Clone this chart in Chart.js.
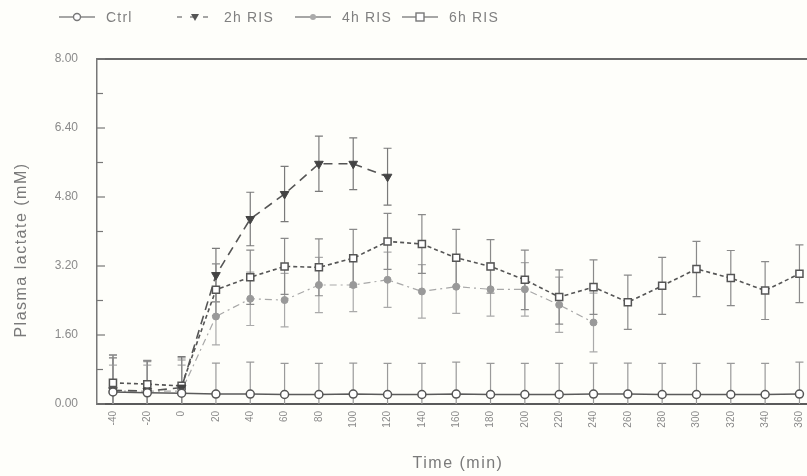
<!DOCTYPE html>
<html>
<head>
<meta charset="utf-8">
<script src="https://cdn.jsdelivr.net/npm/chart.js@4.4.1/dist/chart.umd.min.js"></script>
<style>
  html, body { margin: 0; padding: 0; background: #fefefa; }
  #wrap { position: relative; width: 807px; height: 476px; overflow: hidden; }
  #legend { position: absolute; top: 9px; left: 0; width: 807px; height: 22px;
            font-family: "Liberation Sans", Arial, sans-serif; font-size: 14px; color: #808080; letter-spacing: 1.2px; }
  .item { position: absolute; top: 0; display: flex; align-items: center; }
  .item svg { margin-right: 10px; }
</style>
</head>
<body>
<div id="wrap">
  <canvas id="lactateChart" width="807" height="476"></canvas>
  <div id="legend"></div>
</div>
<script>
// Time points (min) and plasma lactate (mM), mean and SE
const timePoints = [-40, -20, 0, 20, 40, 60, 80, 100, 120, 140, 160, 180, 200, 220, 240, 260, 280, 300, 320, 340, 360];

const ctrlMean = [0.28, 0.26, 0.25, 0.23, 0.23, 0.22, 0.22, 0.23, 0.22, 0.22, 0.23, 0.22, 0.22, 0.22, 0.23, 0.23, 0.22, 0.22, 0.22, 0.22, 0.23];
const ctrlSE   = [0.85, 0.72, 0.82, 0.72, 0.74, 0.72, 0.72, 0.72, 0.72, 0.72, 0.74, 0.72, 0.72, 0.72, 0.72, 0.72, 0.72, 0.72, 0.72, 0.72, 0.74];

const ris2hMean = [0.32, 0.30, 0.38, 2.99, 4.29, 4.87, 5.57, 5.57, 5.27];
const ris2hSE   = [0.75, 0.70, 0.72, 0.62, 0.62, 0.64, 0.64, 0.60, 0.66];

const ris4hMean = [0.30, 0.30, 0.30, 2.03, 2.44, 2.41, 2.76, 2.76, 2.88, 2.61, 2.72, 2.66, 2.66, 2.30, 1.89];
const ris4hSE   = [0.60, 0.60, 0.60, 0.66, 0.62, 0.62, 0.64, 0.62, 0.64, 0.62, 0.62, 0.62, 0.62, 0.64, 0.68];

const ris6hMean = [0.49, 0.46, 0.42, 2.65, 2.94, 3.19, 3.17, 3.38, 3.77, 3.71, 3.39, 3.19, 2.88, 2.48, 2.71, 2.36, 2.74, 3.13, 2.92, 2.63, 3.02];
const ris6hSE   = [0.65, 0.55, 0.60, 0.60, 0.63, 0.65, 0.66, 0.67, 0.65, 0.68, 0.66, 0.62, 0.69, 0.63, 0.63, 0.63, 0.66, 0.64, 0.64, 0.67, 0.67];

const yTickValues = [0, 1.6, 3.2, 4.8, 6.4, 8.0];

const xTitle = 'Time (min)';
const yTitle = 'Plasma lactate (mM)';

function toPoints(mean) {
    return mean.map((v, i) => ({ x: timePoints[i], y: v }));
}

// error bars drawn through the chart's own scales
const errorBars = {
    id: 'errorBars',
    beforeDatasetsDraw(chart) {
        const { ctx, chartArea, scales: { x, y } } = chart;
        ctx.save();
        ctx.beginPath();
        ctx.rect(chartArea.left, chartArea.top, chartArea.right - chartArea.left, chartArea.bottom - chartArea.top);
        ctx.clip();
        chart.data.datasets.forEach(ds => {
            ctx.strokeStyle = ds.errorColor;
            ctx.lineWidth = 1.2;
            ds.data.forEach((p, i) => {
                const se = ds.se[i];
                const px = x.getPixelForValue(p.x);
                const top = y.getPixelForValue(p.y + se);
                const bot = y.getPixelForValue(p.y - se);
                ctx.beginPath();
                ctx.moveTo(px, top); ctx.lineTo(px, bot);
                ctx.moveTo(px - 4, top); ctx.lineTo(px + 4, top);
                ctx.moveTo(px - 4, bot); ctx.lineTo(px + 4, bot);
                ctx.stroke();
            });
        });
        ctx.restore();
    }
};

// frame line at top, inward y ticks and the two axis titles
const frame = {
    id: 'frame',
    afterDraw(chart) {
        const { ctx, chartArea, scales: { y } } = chart;
        ctx.save();
        ctx.strokeStyle = '#6a6a6a';
        ctx.lineWidth = 2;
        ctx.beginPath();
        ctx.moveTo(chartArea.left, chartArea.top);
        ctx.lineTo(chartArea.right, chartArea.top);
        ctx.stroke();
        ctx.strokeStyle = '#777';
        ctx.lineWidth = 1.2;
        yTickValues.forEach((v, i) => {
            const py = y.getPixelForValue(v);
            ctx.beginPath();
            ctx.moveTo(chartArea.left, py); ctx.lineTo(chartArea.left + 8, py);
            ctx.stroke();
            if (i < yTickValues.length - 1) {
                const my = y.getPixelForValue((v + yTickValues[i + 1]) / 2);
                ctx.beginPath();
                ctx.moveTo(chartArea.left, my); ctx.lineTo(chartArea.left + 6, my);
                ctx.stroke();
            }
        });

        ctx.fillStyle = '#7a7a7a';
        ctx.textAlign = 'center';
        ctx.textBaseline = 'middle';
        ctx.letterSpacing = '1.5px';
        ctx.font = '16px "Liberation Sans"';
        ctx.fillText(xTitle, 458, 464);
        ctx.translate(22, 250);
        ctx.rotate(-Math.PI / 2);
        ctx.fillText(yTitle, 0, 0);
        ctx.restore();
    }
};

const datasets = [
    {
        label: 'Ctrl', data: toPoints(ctrlMean), se: ctrlSE, errorColor: '#9a9a9a',
        borderColor: '#5a5a5a', borderWidth: 1.5, pointStyle: 'circle', pointRadius: 4,
        pointBackgroundColor: '#fff', pointBorderColor: '#555', pointBorderWidth: 1.5
    },
    {
        label: '2h RIS', data: toPoints(ris2hMean), se: ris2hSE, errorColor: '#7a7a7a',
        borderColor: '#555', borderWidth: 1.6, borderDash: [9, 6], pointStyle: 'triangle', rotation: 180,
        pointRadius: 5, pointBackgroundColor: '#444', pointBorderColor: '#444', pointBorderWidth: 1
    },
    {
        label: '4h RIS', data: toPoints(ris4hMean), se: ris4hSE, errorColor: '#aaaaaa',
        borderColor: '#a8a8a8', borderWidth: 1.2, borderDash: [7, 4, 2, 4], pointStyle: 'circle',
        pointRadius: 3.5, pointBackgroundColor: '#999', pointBorderColor: '#999', pointBorderWidth: 1
    },
    {
        label: '6h RIS', data: toPoints(ris6hMean), se: ris6hSE, errorColor: '#8a8a8a',
        borderColor: '#555', borderWidth: 1.6, borderDash: [4, 3], pointStyle: 'rect',
        pointRadius: 5, pointBackgroundColor: '#fff', pointBorderColor: '#555', pointBorderWidth: 1.5
    }
];

const ctx = document.getElementById('lactateChart').getContext('2d');
const lactateChart = new Chart(ctx, {
    type: 'line',
    data: { datasets: datasets },
    plugins: [errorBars, frame],
    options: {
        responsive: false,
        animation: false,
        devicePixelRatio: 1,
        layout: { autoPadding: false, padding: { top: 59, right: 0, left: 0, bottom: 0 } },
        plugins: {
            legend: { display: false },
            tooltip: { enabled: false }
        },
        elements: { line: { tension: 0, fill: false } },
        scales: {
            x: {
                type: 'linear',
                min: -49.3,
                max: 364.4,
                afterBuildTicks: scale => { scale.ticks = timePoints.map(v => ({ value: v })); },
                afterFit: scale => { scale.height = 72; scale.paddingLeft = 0; scale.paddingRight = 0; },
                grid: { display: false, drawTicks: false },
                border: { display: true, color: '#5a5a5a', width: 2 },
                ticks: {
                    minRotation: 90, maxRotation: 90, padding: 7, color: '#8a8a8a',
                    font: { family: 'Liberation Sans', size: 10 }
                }
            },
            y: {
                min: 0,
                max: 8,
                afterBuildTicks: scale => { scale.ticks = yTickValues.map(v => ({ value: v })); },
                afterFit: scale => { scale.width = 97; scale.paddingTop = 0; scale.paddingBottom = 0; },
                grid: { display: false, drawTicks: false },
                border: { display: true, color: '#777', width: 1.5 },
                ticks: {
                    padding: 19, color: '#8a8a8a',
                    font: { family: 'Liberation Sans', size: 12 },
                    callback: v => v.toFixed(2)
                }
            }
        }
    }
});

// html legend with line + marker samples
const legendItems = [
    { label: 'Ctrl', left: 58, dash: '', marker: '<circle cx="19" cy="8" r="3.5" fill="#fff" stroke="#777" stroke-width="1.4"/>' },
    { label: '2h RIS', left: 176, dash: '5,8', marker: '<path d="M15 5 L23 5 L19 12 Z" fill="#555"/>' },
    { label: '4h RIS', left: 294, dash: '', marker: '<circle cx="19" cy="8" r="3" fill="#aaa"/>' },
    { label: '6h RIS', left: 401, dash: '', marker: '<rect x="15" y="4" width="8" height="8" fill="#fff" stroke="#777" stroke-width="1.4"/>' }
];
const legendDiv = document.getElementById('legend');
legendItems.forEach(it => {
    const el = document.createElement('div');
    el.className = 'item';
    el.style.left = it.left + 'px';
    el.innerHTML = '<svg width="38" height="16"><line x1="1" y1="8" x2="37" y2="8" stroke="#888" stroke-width="1.4"' +
        (it.dash ? ' stroke-dasharray="' + it.dash + '"' : '') + '/>' + it.marker + '</svg><span>' + it.label + '</span>';
    legendDiv.appendChild(el);
});
</script>
</body>
</html>
